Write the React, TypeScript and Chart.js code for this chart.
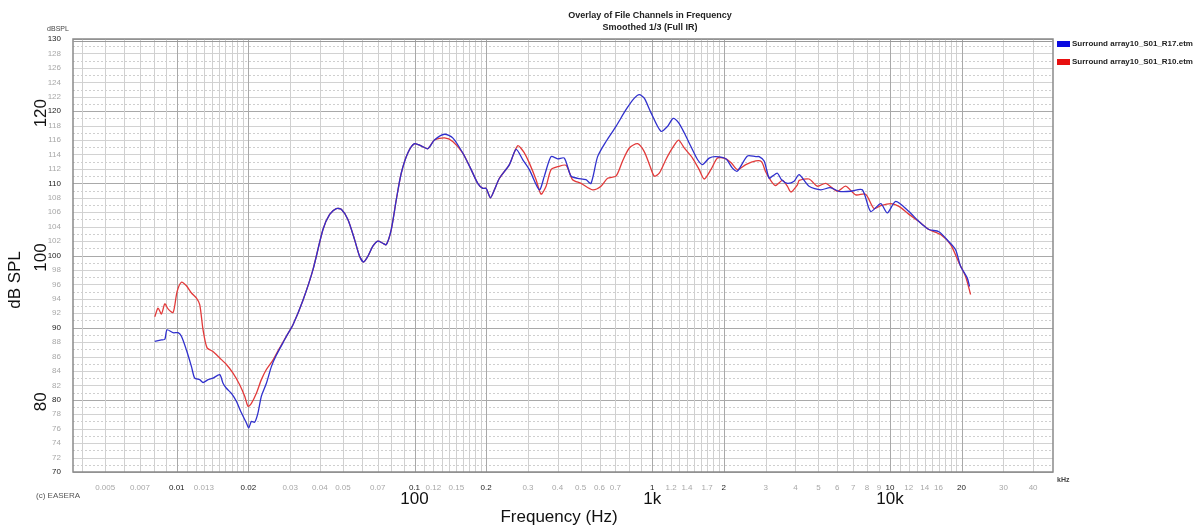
import React, { useEffect, useRef } from 'react';
import { Chart, registerables } from 'chart.js';

Chart.register(...registerables);

// ---- data (frequencies in kHz, levels in dB SPL) ----
const BLUE_LABEL = 'Surround array10_S01_R17.etm';
const RED_LABEL = 'Surround array10_S01_R10.etm';

const blueFreq = [0.00808,0.00862,0.00891,0.0091,0.00965,0.01013,0.01046,0.01098,0.01153,0.0119,
  0.01249,0.0129,0.01354,0.0142,0.01516,0.01565,0.01617,0.01698,0.01781,0.0187,
  0.01963,0.02007,0.0206,0.02127,0.02196,0.02269,0.02382,0.025,0.02624,0.02797,
  0.0289,0.03082,0.03395,0.03738,0.0412,0.04396,0.04688,0.0492,0.05246,0.05596,
  0.05874,0.06106,0.06367,0.0668,0.07012,0.0736,0.07605,0.07983,0.0838,0.08794,
  0.09372,0.1,0.1067,0.1137,0.1213,0.1337,0.1448,0.1596,0.1731,0.1845,
  0.1936,0.2001,0.2086,0.2168,0.2276,0.2507,0.2675,0.2851,0.3042,0.3351,
  0.3517,0.3753,0.4,0.4268,0.4553,0.4853,0.5264,0.5525,0.5891,0.639,
  0.704,0.7754,0.8406,0.8822,0.9256,0.9874,1.0879,1.1596,1.225,1.2898,
  1.363,1.4545,1.55,1.6272,1.7358,1.8518,2.0406,2.1747,2.2826,2.5141,
  2.7275,2.8163,2.9556,3.102,3.2027,3.3627,3.5,3.704,3.9509,4.1468,
  4.5673,5.1151,5.6,6.1038,6.8375,7.6482,8.2982,9.1417,9.7432,10.57,
  12.02,13.24,14.58,16.07,17.7,18.88,19.82,21.13,21.62];
const blueDb = [88.1,88.3,88.4,89.7,89.3,89.3,88.8,86.9,84.6,83.0,
  82.8,82.4,82.8,83.0,83.5,82.3,81.6,80.9,79.8,78.2,
  76.8,76.1,77.0,76.9,78.2,80.5,82.3,84.6,86.2,87.9,
  88.8,90.4,93.8,98.0,103.6,105.7,106.5,106.4,105.0,102.2,
  99.9,99.1,99.9,101.3,102.0,101.7,101.5,103.6,107.7,111.4,
  114.2,115.5,115.2,114.8,116.0,116.8,116.3,114.2,111.9,110.0,
  109.3,109.3,108.0,109.1,110.7,112.6,114.7,113.3,111.9,109.1,
  111.0,113.7,113.4,113.5,111.0,110.7,110.5,110.0,113.7,115.8,
  117.9,120.2,121.8,122.3,121.8,119.8,117.2,117.9,119.0,118.4,
  117.0,115.1,113.3,112.6,113.5,113.7,113.4,112.1,111.7,113.8,
  113.7,113.7,113.1,110.7,111.0,111.4,110.5,110.0,110.3,111.2,
  109.6,109.1,109.4,108.9,108.9,109.1,106.1,107.2,105.9,107.5,
  106.1,104.7,103.6,103.3,101.9,100.8,98.5,96.9,95.7];

const redFreq = [0.00808,0.00834,0.00862,0.00891,0.00919,0.00965,0.01003,0.01046,0.01098,0.01153,
  0.0121,0.01249,0.0129,0.01341,0.0142,0.01516,0.01617,0.01724,0.01839,0.01931,
  0.01994,0.0206,0.02162,0.02269,0.02382,0.02539,0.02709,0.0289,0.03082,0.03395,
  0.03738,0.0412,0.04396,0.04688,0.0492,0.05246,0.05596,0.05874,0.06106,0.06367,
  0.0668,0.07012,0.0736,0.07605,0.07983,0.0838,0.08794,0.09372,0.1,0.1067,
  0.1137,0.1213,0.1337,0.1448,0.1596,0.1731,0.1845,0.1936,0.2001,0.2086,
  0.2168,0.2276,0.2507,0.2717,0.2899,0.3042,0.3246,0.3407,0.3576,0.3753,
  0.4,0.4339,0.4624,0.5016,0.5612,0.6088,0.649,0.704,0.7503,0.8008,
  0.8678,0.9256,0.9779,1.0195,1.07,1.1418,1.2168,1.2898,1.363,1.4772,
  1.576,1.6544,1.7645,1.881,2.007,2.1413,2.2826,2.4756,2.7275,2.88,
  3.0,3.15,3.3,3.53,3.7,3.83,4.08,4.15,4.57,4.95,
  5.37,6.0,6.51,7.18,7.9,8.57,9.14,10.07,10.91,12.02,
  13.24,14.58,16.33,17.99,19.5,20.8,21.83];
const redDb = [91.5,92.7,91.9,93.3,92.6,92.1,95.0,96.3,95.8,94.8,
  94.1,93.2,89.7,87.2,86.7,85.8,84.9,83.7,82.1,80.5,
  79.1,79.5,80.9,82.8,84.2,85.5,87.2,88.8,90.4,93.8,
  98.0,103.6,105.7,106.5,106.4,105.0,102.2,99.9,99.1,99.9,
  101.3,102.0,101.7,101.5,103.6,107.7,111.4,114.2,115.5,115.2,
  114.8,116.0,116.3,115.8,114.2,111.9,110.0,109.3,109.3,108.0,
  109.1,110.7,112.6,115.2,114.2,112.8,110.5,108.5,109.6,111.9,
  112.3,112.5,110.5,110.0,109.1,109.6,110.7,111.0,113.1,114.9,
  115.5,114.4,112.4,111.0,111.4,113.3,114.9,116.0,114.9,113.5,
  111.9,110.6,111.9,113.5,113.5,112.9,111.9,112.6,113.1,113.0,
  111.6,110.4,109.7,110.4,109.6,108.8,109.8,110.4,110.6,109.6,
  110.0,108.9,109.6,108.4,108.5,106.5,106.9,107.2,106.8,105.7,
  104.7,103.6,102.9,101.5,99.0,97.1,94.6];

// ---- axis tick labels ----
const X_TICKS = [0.005,0.007,0.01,0.013,0.02,0.03,0.04,0.05,0.07,0.1,0.12,0.15,0.2,0.3,0.4,0.5,0.6,0.7,
  1,1.2,1.4,1.7,2,3,4,5,6,7,8,9,10,12,14,16,20,30,40];
const X_MAJOR = [0.01,0.02,0.1,0.2,1,2,10,20];
const X_BIG_VALUES = [0.1,1,10];
const X_BIG_LABELS = ['100','1k','10k'];
const Y_BIG_VALUES = [120,100,80];
const X_MIN = 0.00366;
const X_MAX = 48.5;
const Y_MIN = 70;
const Y_MAX = 130;
const GRID_DECADES = [0.001,0.01,0.1,1,10];
const GRID_MULTS = [1,1.1,1.2,1.3,1.4,1.5,1.6,1.7,1.8,1.9,2,3,4,5,6,7,8,9];

const FONT = "'Liberation Sans', Arial, Helvetica, sans-serif";
const BLUE = 'rgb(48,48,205)';
const RED = 'rgb(226,58,58)';

const isMajorX = (v: number) => X_MAJOR.some((m) => Math.abs(m - v) / m < 1e-6);

const gridPlugin = {
  id: 'easeraGrid',
  beforeDatasetsDraw(chart: any) {
    const { ctx, chartArea: a, scales } = chart;
    const x = scales.x;
    const y = scales.y;
    ctx.save();
    // horizontal lines every 1 dB
    for (let v = Y_MIN; v <= Y_MAX; v++) {
      const py = Math.round(y.getPixelForValue(v)) + 0.5;
      ctx.beginPath();
      if (v % 10 === 0) {
        ctx.strokeStyle = '#a9a9a9';
        ctx.setLineDash([]);
      } else if (v % 2 === 0) {
        ctx.strokeStyle = '#d2d2d2';
        ctx.setLineDash([]);
      } else {
        ctx.strokeStyle = '#cfcfcf';
        ctx.setLineDash([2, 2]);
      }
      ctx.lineWidth = 1;
      ctx.moveTo(a.left, py);
      ctx.lineTo(a.right, py);
      ctx.stroke();
    }
    ctx.setLineDash([]);
    // vertical lines
    for (const d of GRID_DECADES) {
      for (const m of GRID_MULTS) {
        const v = d * m;
        if (v <= X_MIN || v >= X_MAX) continue;
        if (d >= 10 && m > 2 && m < 3) continue;
        if (d >= 10 && m > 1 && m < 2 && false) continue;
        const px = Math.round(x.getPixelForValue(v)) + 0.5;
        ctx.beginPath();
        ctx.strokeStyle = m === 1 || m === 2 ? '#a9a9a9' : '#d0d0d0';
        ctx.lineWidth = 1;
        ctx.moveTo(px, a.top);
        ctx.lineTo(px, a.bottom);
        ctx.stroke();
      }
    }
    // frame
    ctx.strokeStyle = '#8a8a8a';
    ctx.lineWidth = 1.5;
    ctx.strokeRect(a.left, a.top, a.right - a.left, a.bottom - a.top);
    ctx.beginPath();
    ctx.strokeStyle = '#9a9a9a';
    ctx.lineWidth = 1;
    ctx.moveTo(a.left, a.top + 2.5);
    ctx.lineTo(a.right, a.top + 2.5);
    ctx.stroke();
    ctx.restore();
  },
};

const textPlugin = {
  id: 'easeraText',
  afterDraw(chart: any) {
    const { ctx, scales } = chart;
    const x = scales.x;
    const y = scales.y;
    ctx.save();
    ctx.textBaseline = 'middle';
    // title
    ctx.fillStyle = '#222';
    ctx.textAlign = 'center';
    ctx.font = `bold 9px ${FONT}`;
    ctx.fillText('Overlay of File Channels in Frequency', 650, 16);
    ctx.fillText('Smoothed 1/3 (Full IR)', 650, 28);
    // legend
    const legend = [
      [BLUE_LABEL, '#0a0ae0', 44],
      [RED_LABEL, '#e81010', 62],
    ] as const;
    for (const [label, col, ly] of legend) {
      ctx.fillStyle = col;
      ctx.fillRect(1057, ly - 3, 13, 6);
      ctx.fillStyle = '#222';
      ctx.textAlign = 'left';
      ctx.font = `bold 8px ${FONT}`;
      ctx.fillText(label, 1072, ly);
    }
    // unit labels
    ctx.fillStyle = '#444';
    ctx.textAlign = 'center';
    ctx.font = `7px ${FONT}`;
    ctx.fillText('dBSPL', 58, 29);
    ctx.textAlign = 'left';
    ctx.font = `bold 7px ${FONT}`;
    ctx.fillText('kHz', 1057, 480);
    ctx.font = `8px ${FONT}`;
    ctx.fillStyle = '#555';
    ctx.fillText('(c) EASERA', 36, 496);
    // big y labels
    ctx.fillStyle = '#111';
    ctx.font = `17px ${FONT}`;
    ctx.textAlign = 'center';
    for (const v of Y_BIG_VALUES) {
      const py = y.getPixelForValue(v) + 2;
      ctx.save();
      ctx.translate(41, py);
      ctx.rotate(-Math.PI / 2);
      ctx.fillText(String(v), 0, 0);
      ctx.restore();
    }
    ctx.save();
    ctx.translate(15, 280);
    ctx.rotate(-Math.PI / 2);
    ctx.fillText('dB SPL', 0, 0);
    ctx.restore();
    // big x labels
    X_BIG_VALUES.forEach((v, i) => {
      ctx.fillText(X_BIG_LABELS[i], x.getPixelForValue(v), 499);
    });
    ctx.fillText('Frequency (Hz)', 559, 517);
    ctx.restore();
  },
};

export default function App() {
  const ref = useRef<HTMLCanvasElement>(null);
  useEffect(() => {
    const canvas = ref.current;
    if (!canvas) return;
    const chart = new Chart(canvas, {
      type: 'line',
      data: {
        datasets: [
          {
            label: BLUE_LABEL,
            data: blueFreq.map((f, i) => ({ x: f, y: blueDb[i] })),
            borderColor: BLUE,
            borderWidth: 1.3,
            pointRadius: 0,
            tension: 0.25,
            fill: false,
          },
          {
            label: RED_LABEL,
            data: redFreq.map((f, i) => ({ x: f, y: redDb[i] })),
            borderColor: RED,
            borderWidth: 1.3,
            pointRadius: 0,
            tension: 0.25,
            fill: false,
          },
        ],
      },
      options: {
        responsive: false,
        animation: false,
        devicePixelRatio: 1,
        layout: { padding: { top: 39, right: 147, left: 0, bottom: 0 } },
        plugins: {
          legend: { display: false },
          title: { display: false },
          tooltip: { enabled: false },
        },
        scales: {
          x: {
            type: 'logarithmic',
            min: X_MIN,
            max: X_MAX,
            grid: { display: false },
            border: { display: false },
            afterBuildTicks: (scale: any) => {
              scale.ticks = X_TICKS.map((v) => ({ value: v }));
            },
            afterFit: (scale: any) => {
              scale.height = 53;
            },
            ticks: {
              autoSkip: false,
              maxRotation: 0,
              minRotation: 0,
              padding: 3,
              callback: (v: any) => String(v),
              color: (c: any) => (c.tick && isMajorX(c.tick.value) ? '#222' : '#a8a8a8'),
              font: { family: FONT, size: 8 },
            },
          },
          y: {
            type: 'linear',
            min: Y_MIN,
            max: Y_MAX,
            grid: { display: false },
            border: { display: false },
            afterFit: (scale: any) => {
              scale.width = 73;
            },
            ticks: {
              stepSize: 2,
              padding: 4,
              callback: (v: any) => String(v),
              color: (c: any) => (c.tick && c.tick.value % 10 === 0 ? '#222' : '#a8a8a8'),
              font: { family: FONT, size: 8 },
            },
          },
        },
      },
      plugins: [gridPlugin, textPlugin],
    } as any);
    return () => chart.destroy();
  }, []);
  return (
    <div style={{ position: 'absolute', left: 0, top: 0, width: 1200, height: 525, background: '#fff' }}>
      <canvas ref={ref} width={1200} height={525} style={{ display: 'block', width: 1200, height: 525 }} />
    </div>
  );
}
